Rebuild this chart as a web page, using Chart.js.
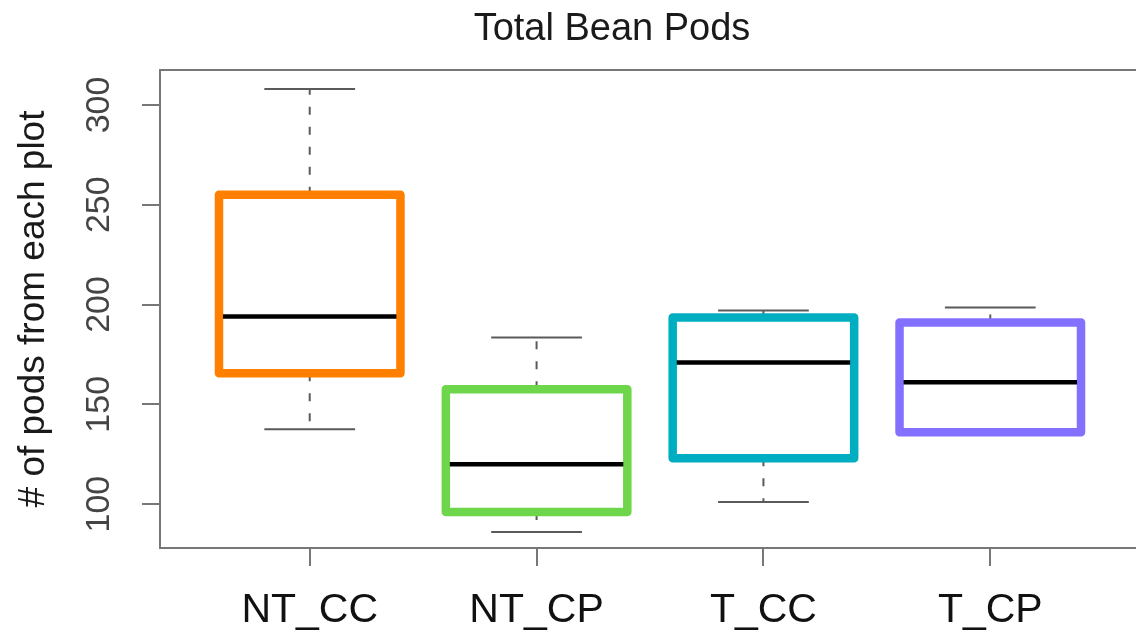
<!DOCTYPE html>
<html>
<head>
<meta charset="utf-8">
<title>Total Bean Pods</title>
<script src="https://cdn.jsdelivr.net/npm/chart.js@4.4.1/dist/chart.umd.min.js"></script>
<style>
  html, body { margin: 0; padding: 0; background: #fff; overflow: hidden; }
  #wrap { width: 1224px; height: 632px; }
</style>
</head>
<body>
<div id="wrap"><canvas id="myChart"></canvas></div>
<script>
// datos del boxplot
const categories = ['NT_CC', 'NT_CP', 'T_CC', 'T_CP'];
const whiskerLow = [137.5, 86, 101, 136];
const q1 = [165.5, 96, 123, 136];
const median = [194, 120, 171, 161];
const q3 = [255, 157.5, 193.5, 191];
const whiskerHigh = [308, 183.5, 197, 198.5];
const boxColors = ['#FF7F00', '#6ED64A', '#00AEC2', '#8470FF'];
const yTicks = [100, 150, 200, 250, 300];

// dibuja cajas, bigotes, medianas y el marco usando las escalas del gráfico
const boxplotPlugin = {
  id: 'boxplot',
  afterDatasetsDraw(chart) {
    const ctx = chart.ctx;
    const y = chart.scales.y;
    const area = chart.chartArea;
    const meta = chart.getDatasetMeta(0);

    ctx.save();
    // marco
    ctx.strokeStyle = '#777';
    ctx.lineWidth = 2;
    ctx.strokeRect(area.left, area.top, area.right - area.left, area.bottom - area.top);

    meta.data.forEach((bar, i) => {
      const cx = bar.x;
      const half = bar.width / 2;
      const capHalf = half / 2;
      const yLo = y.getPixelForValue(whiskerLow[i]);
      const yQ1 = y.getPixelForValue(q1[i]);
      const yMed = y.getPixelForValue(median[i]);
      const yQ3 = y.getPixelForValue(q3[i]);
      const yHi = y.getPixelForValue(whiskerHigh[i]);

      // bigotes punteados
      ctx.strokeStyle = '#5a5a5a';
      ctx.lineWidth = 2;
      ctx.setLineDash([8, 12]);
      ctx.beginPath();
      ctx.moveTo(cx, yQ3); ctx.lineTo(cx, yHi);
      ctx.moveTo(cx, yQ1); ctx.lineTo(cx, yLo);
      ctx.stroke();
      ctx.setLineDash([]);
      // topes
      ctx.beginPath();
      ctx.moveTo(cx - capHalf, yHi); ctx.lineTo(cx + capHalf, yHi);
      ctx.moveTo(cx - capHalf, yLo); ctx.lineTo(cx + capHalf, yLo);
      ctx.stroke();

      // caja
      ctx.fillStyle = '#fff';
      ctx.fillRect(cx - half, yQ3, half * 2, yQ1 - yQ3);
      ctx.strokeStyle = boxColors[i];
      ctx.lineWidth = 8.5;
      ctx.lineJoin = 'round';
      ctx.strokeRect(cx - half, yQ3, half * 2, yQ1 - yQ3);

      // mediana
      ctx.strokeStyle = '#000';
      ctx.lineWidth = 4.5;
      ctx.beginPath();
      ctx.moveTo(cx - half + 4, yMed);
      ctx.lineTo(cx + half - 4, yMed);
      ctx.stroke();
    });
    ctx.restore();
  }
};

const ctx = document.getElementById('myChart').getContext('2d');
const myChart = new Chart(ctx, {
  type: 'bar',
  data: {
    datasets: [{
      label: 'Total Bean Pods',
      data: categories.map((c, i) => ({ x: i + 1, y: [q1[i], q3[i]] })),
      backgroundColor: 'rgba(0,0,0,0)',
      borderWidth: 0,
      barPercentage: 0.8,
      categoryPercentage: 1
    }]
  },
  options: {
    responsive: true,
    maintainAspectRatio: false,
    animation: false,
    events: [],
    layout: { padding: 0 },
    plugins: {
      legend: { display: false },
      tooltip: { enabled: false },
      title: {
        display: true,
        text: 'Total Bean Pods',
        color: '#1a1a1a',
        font: { family: "'Liberation Sans', Arial, sans-serif", size: 38, weight: 'normal' },
        padding: { top: 7, bottom: 17.4 }
      }
    },
    scales: {
      x: {
        type: 'linear',
        min: 0.34,
        max: 4.66,
        offset: false,
        afterBuildTicks: s => { s.ticks = categories.map((c, i) => ({ value: i + 1 })); },
        afterFit: s => { s.height = 84; },
        grid: { display: true, drawOnChartArea: false, drawTicks: true, tickLength: 18, color: '#777', lineWidth: 2, offset: false },
        border: { display: false },
        ticks: {
          callback: v => categories[v - 1],
          color: '#111',
          padding: 20,
          maxRotation: 0,
          autoSkip: false,
          font: { family: "'Liberation Sans Narrow', 'Arial Narrow', 'Liberation Sans', Arial, sans-serif", size: 41 }
        }
      },
      y: {
        min: 78,
        max: 317.5,
        afterBuildTicks: s => { s.ticks = yTicks.map(v => ({ value: v })); },
        afterFit: s => { s.width = 160; },
        grid: { display: true, drawOnChartArea: false, drawTicks: true, tickLength: 18, color: '#777', lineWidth: 2 },
        border: { display: false },
        ticks: {
          color: '#444',
          padding: 14,
          minRotation: 90,
          maxRotation: 90,
          crossAlign: 'center',
          font: { family: "'Liberation Sans', Arial, sans-serif", size: 34 }
        },
        title: {
          display: true,
          text: '# of pods from each plot',
          color: '#1a1a1a',
          padding: { top: 12, bottom: 0 },
          font: { family: "'Liberation Sans', Arial, sans-serif", size: 37 }
        }
      },
      yRight: {
        type: 'linear',
        position: 'right',
        display: true,
        afterFit: s => { s.width = 84; },
        grid: { display: false },
        border: { display: false },
        ticks: { display: false }
      }
    }
  },
  plugins: [boxplotPlugin]
});
</script>
</body>
</html>
